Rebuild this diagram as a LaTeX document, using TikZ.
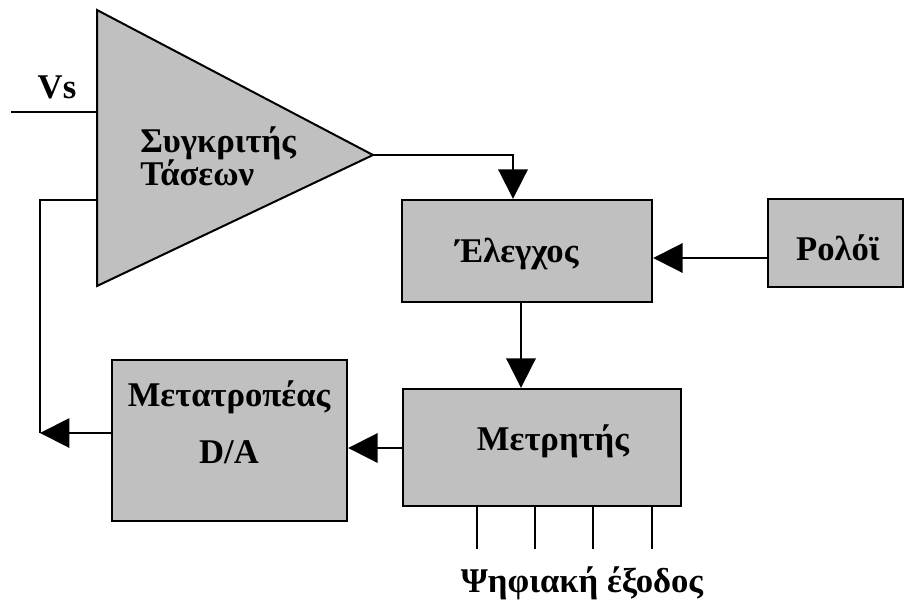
\documentclass[tikz,border=0pt]{standalone}
\usepackage{fontspec}
\setmainfont{Liberation Serif}
\usetikzlibrary{arrows.meta}
\definecolor{panel}{RGB}{192,192,192}
\tikzset{
  block/.style={draw=black, fill=panel, line width=1.8pt, inner sep=0pt},
  wire/.style={line width=1.5pt},
  feed/.style={wire, -{Triangle[length=22pt,width=22pt]}},
  caption/.style={font=\bfseries\fontsize{26}{30}\selectfont, anchor=base, inner sep=0pt},
}
\begin{document}
\begin{tikzpicture}[x=0.75pt,y=-0.75pt]
\useasboundingbox (0,0) rectangle (905,603);

% comparator triangle
\draw[block, line width=1.5pt, line join=miter]
  (97,10) coordinate (ta) -- (373,155) coordinate (apex) -- (97,286) coordinate (tb) -- cycle;

% blocks
\node[block, minimum width=187.5pt, minimum height=76.5pt] (ctrl) at (527,251) {};
\node[block, minimum width=101.25pt, minimum height=66pt] (clock) at (835.5,243) {};
\node[block, minimum width=208.5pt, minimum height=87.75pt] (count) at (542,447.5) {};
\node[block, minimum width=176.25pt, minimum height=120.75pt] (dac) at (229.5,440.5) {};

% helper coordinates for the connector rows and columns
\coordinate (vsend) at (11,112);
\coordinate (cin) at (513,0);
\coordinate (ckrow) at (0,258);
\coordinate (vdown) at (521,0);
\coordinate (cntrow) at (0,448);
\coordinate (fb) at (40,433);
\coordinate (fbin) at (97,200);

% connectors
\draw[wire] (vsend) -- (ta |- vsend);
\draw[feed] (apex) -| (ctrl.north -| cin);
\draw[feed] (clock.west |- ckrow) -- (ctrl.east |- ckrow);
\draw[feed] (ctrl.south -| vdown) -- (count.north -| vdown);
\draw[feed] (count.west |- cntrow) -- (dac.east |- cntrow);
\draw[feed] (dac.west |- fb) -- (fb);
\draw[wire] (fb) |- (fbin);

% digital output lines
\foreach \x [count=\i] in {477,535,593,652} {
  \coordinate (out\i) at (\x,549);
  \draw[wire] (count.south -| out\i) -- (out\i);
}

% labels
\node[caption] (vs) at (57,98) {Vs};
\node[caption, anchor=base west] (cmpa) at (140,152) {Συγκριτής};
\node[caption, anchor=base west] (cmpb) at (140,185) {Τάσεων};
\node[caption] (ctrltxt) at (517,262) {Έλεγχος};
\node[caption] (clocktxt) at (838,260) {Ρολόϊ};
\node[caption] (counttxt) at (553,450) {Μετρητής};
\node[caption] (dactxta) at (229,406) {Μετατροπέας};
\node[caption] (dactxtb) at (229,463) {D/A};
\node[caption] (outtxt) at (582,592) {Ψηφιακή έξοδος};
\end{tikzpicture}
\end{document}
